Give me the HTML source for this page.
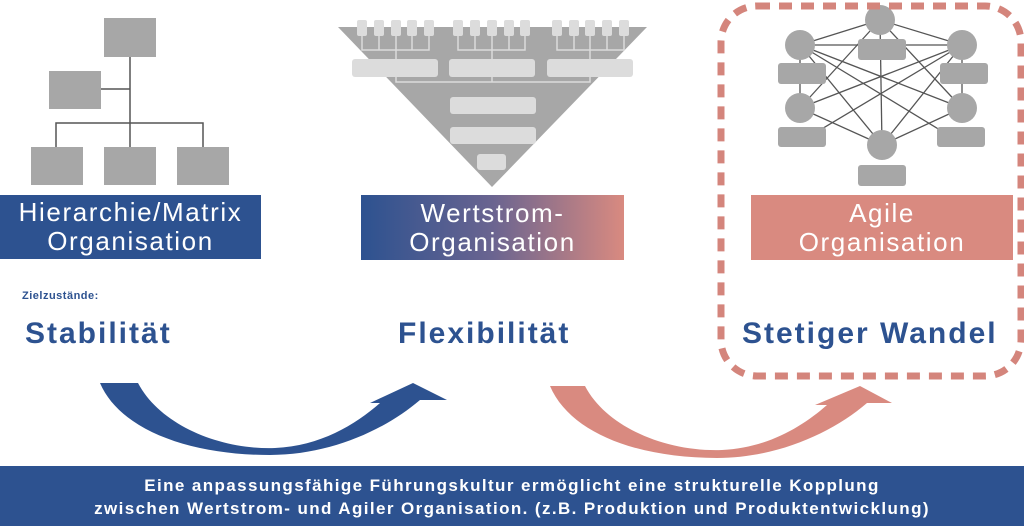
<!DOCTYPE html>
<html><head><meta charset="utf-8"><style>
body{margin:0;width:1024px;height:526px;overflow:hidden;background:#fff;font-family:"Liberation Sans","DejaVu Sans",sans-serif;position:relative}
.lbl{position:absolute;color:#fff;font-size:26px;line-height:29px;text-align:center;display:flex;align-items:center;justify-content:center;letter-spacing:1.6px;white-space:nowrap}
.t{position:absolute;color:#2d5290;font-weight:bold;white-space:nowrap}
.big{font-size:30px;letter-spacing:2px}
</style></head><body>
<svg width="1024" height="526" style="position:absolute;left:0;top:0">
<g fill="#a7a7a7">
<rect x="104" y="18" width="52" height="39"/><rect x="49" y="71" width="52" height="38"/>
<rect x="31" y="147" width="52" height="38"/><rect x="104" y="147" width="52" height="38"/><rect x="177" y="147" width="52" height="38"/>
</g>
<g stroke="#555" stroke-width="1.5" fill="none">
<path d="M130 57V147M101 89H130M56 147V123H203V147"/>
</g>
<polygon points="338,27 647,27 492,187" fill="#a7a7a7"/>
<g fill="#dcdcdc">
<rect x="357" y="20" width="10" height="16" rx="2"/><rect x="374" y="20" width="10" height="16" rx="2"/><rect x="391" y="20" width="10" height="16" rx="2"/><rect x="407" y="20" width="10" height="16" rx="2"/><rect x="424" y="20" width="10" height="16" rx="2"/>
<rect x="453" y="20" width="10" height="16" rx="2"/><rect x="470" y="20" width="10" height="16" rx="2"/><rect x="487" y="20" width="10" height="16" rx="2"/><rect x="504" y="20" width="10" height="16" rx="2"/><rect x="520" y="20" width="10" height="16" rx="2"/>
<rect x="552" y="20" width="10" height="16" rx="2"/><rect x="569" y="20" width="10" height="16" rx="2"/><rect x="585" y="20" width="10" height="16" rx="2"/><rect x="602" y="20" width="10" height="16" rx="2"/><rect x="619" y="20" width="10" height="16" rx="2"/>
<rect x="352" y="59" width="86" height="18" rx="3"/><rect x="449" y="59" width="86" height="18" rx="3"/><rect x="547" y="59" width="86" height="18" rx="3"/>
<rect x="450" y="97" width="86" height="17" rx="3"/><rect x="450" y="127" width="86" height="17" rx="3"/><rect x="477" y="154" width="29" height="16" rx="3"/>
</g>
<g stroke="#dcdcdc" stroke-width="1.5" fill="none">
<path d="M362 36V50H429V36M379 36V50M396 36V50M412 36V50M396 50V59"/>
<path d="M458 36V50H525V36M475 36V50M492 36V50M509 36V50M492 50V59"/>
<path d="M557 36V50H624V36M574 36V50M590 36V50M607 36V50M590 50V59"/>
<path d="M396 77V82H590V77M492 77V82"/>
</g>
<g stroke="#555" stroke-width="1.3">
<line x1="880" y1="20" x2="800" y2="45"/><line x1="880" y1="20" x2="962" y2="45"/>
<line x1="800" y1="45" x2="962" y2="45"/><line x1="800" y1="45" x2="962" y2="108"/><line x1="800" y1="45" x2="882" y2="145"/>
<line x1="962" y1="45" x2="800" y2="108"/><line x1="962" y1="45" x2="882" y2="145"/>
<line x1="880" y1="20" x2="800" y2="108"/><line x1="880" y1="20" x2="962" y2="108"/><line x1="880" y1="20" x2="882" y2="145"/>
<line x1="800" y1="108" x2="882" y2="145"/><line x1="962" y1="108" x2="882" y2="145"/>
<line x1="800" y1="45" x2="800" y2="108"/><line x1="962" y1="45" x2="962" y2="108"/>
<line x1="820" y1="130" x2="962" y2="45"/><line x1="940" y1="130" x2="800" y2="45"/>
</g>
<g fill="#a7a7a7">
<circle cx="880" cy="20" r="15"/><rect x="858" y="39" width="48" height="21" rx="3"/>
<circle cx="800" cy="45" r="15"/><rect x="778" y="63" width="48" height="21" rx="3"/>
<circle cx="962" cy="45" r="15"/><rect x="940" y="63" width="48" height="21" rx="3"/>
<circle cx="800" cy="108" r="15"/><rect x="778" y="127" width="48" height="20" rx="3"/>
<circle cx="962" cy="108" r="15"/><rect x="937" y="127" width="48" height="20" rx="3"/>
<circle cx="882" cy="145" r="15"/><rect x="858" y="165" width="48" height="21" rx="3"/>
</g>
<rect x="721" y="6" width="300" height="370" rx="36" fill="none" stroke="#d4857c" stroke-width="7" stroke-dasharray="13 9"/>
<path d="M100 383H138C160 425 220 450 275 448C320 446 355 425 380 403L370 403L413 383L447 400L420 400C385 430 330 455 270 455C190 455 120 430 100 383Z" fill="#2d5290"/>
<path d="M550 386H585C607 428 667 452 722 450C767 448 802 427 827 405L815 405L860 386L892 403L867 403C832 433 777 458 717 458C637 458 570 433 550 386Z" fill="#d98a80"/>
</svg>
<div class="lbl" style="left:0;top:195px;width:261px;height:64px;background:#2d5290">Hierarchie/Matrix<br>Organisation</div>
<div class="lbl" style="left:361px;top:195px;width:263px;height:65px;background:linear-gradient(90deg,#2d5290,#6a6490 50%,#d98a80)">Wertstrom-<br>Organisation</div>
<div class="lbl" style="left:751px;top:195px;width:262px;height:65px;background:#d98a80">Agile<br>Organisation</div>
<div class="t" style="left:22px;top:290px;font-size:11px;letter-spacing:0.5px">Zielzustände:</div>
<div class="t big" style="left:25px;top:317px">Stabilität</div>
<div class="t big" style="left:398px;top:317px">Flexibilität</div>
<div class="t big" style="left:742px;top:317px">Stetiger Wandel</div>
<div style="position:absolute;left:0;top:466px;width:1024px;height:60px;background:#2d5290;color:#fff;font-weight:bold;font-size:17px;letter-spacing:1.4px;line-height:23px;text-align:center;padding-top:8px;box-sizing:border-box;white-space:nowrap">Eine anpassungsfähige Führungskultur ermöglicht eine strukturelle Kopplung<br>zwischen Wertstrom- und Agiler Organisation. (z.B. Produktion und Produktentwicklung)</div>
</body></html>
